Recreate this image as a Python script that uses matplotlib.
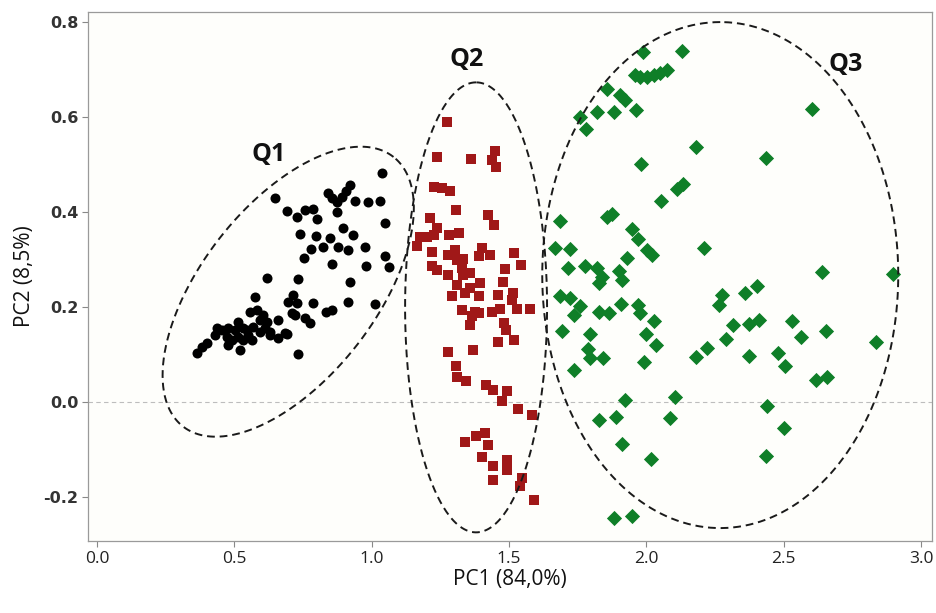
import numpy as np
import matplotlib
matplotlib.use("Agg")
import matplotlib.pyplot as plt

# PCA scores
q1_pc1 = [1.038, 0.921, 0.907, 0.892, 0.874, 0.856, 0.841, 0.874, 0.940, 0.987,
          1.031, 1.049, 0.648, 0.692, 0.728, 0.757, 0.787, 0.801, 0.739, 0.798,
          0.848, 0.823, 0.878, 0.914, 0.896, 0.932, 0.976, 0.779, 0.754, 0.856,
          0.980, 1.049, 1.063, 0.619, 0.732, 0.921, 0.575, 0.714, 0.728, 0.787,
          0.914, 1.012, 0.834, 0.856, 0.696, 0.710, 0.557, 0.583, 0.605, 0.594,
          0.619, 0.612, 0.630, 0.659, 0.685, 0.659, 0.721, 0.757, 0.776, 0.513,
          0.532, 0.503, 0.477, 0.455, 0.437, 0.473, 0.492, 0.513, 0.532, 0.550,
          0.564, 0.521, 0.477, 0.401, 0.382, 0.364, 0.732, 0.430, 0.546, 0.568,
          0.594, 0.630, 0.692]
q1_pc2 = [0.482, 0.457, 0.444, 0.432, 0.421, 0.429, 0.440, 0.400, 0.423, 0.421,
          0.423, 0.377, 0.429, 0.402, 0.389, 0.404, 0.406, 0.385, 0.354, 0.349,
          0.345, 0.326, 0.326, 0.320, 0.366, 0.352, 0.326, 0.322, 0.303, 0.291,
          0.286, 0.307, 0.284, 0.261, 0.259, 0.253, 0.221, 0.225, 0.208, 0.208,
          0.211, 0.206, 0.189, 0.194, 0.211, 0.187, 0.189, 0.194, 0.183, 0.173,
          0.168, 0.156, 0.147, 0.173, 0.145, 0.135, 0.183, 0.177, 0.166, 0.168,
          0.156, 0.152, 0.156, 0.152, 0.156, 0.137, 0.131, 0.137, 0.131, 0.141,
          0.131, 0.109, 0.120, 0.124, 0.116, 0.103, 0.101, 0.141, 0.152, 0.158,
          0.147, 0.141, 0.143]

q2_pc1 = [1.273, 1.237, 1.361, 1.449, 1.437, 1.452, 1.225, 1.255, 1.286, 1.306,
          1.425, 1.446, 1.213, 1.237, 1.225, 1.201, 1.176, 1.164, 1.283, 1.319,
          1.219, 1.279, 1.304, 1.310, 1.334, 1.401, 1.389, 1.431, 1.519, 1.543,
          1.219, 1.237, 1.279, 1.328, 1.334, 1.358, 1.310, 1.395, 1.358, 1.340,
          1.292, 1.389, 1.486, 1.477, 1.461, 1.516, 1.510, 1.528, 1.577, 1.328,
          1.377, 1.365, 1.358, 1.437, 1.468, 1.480, 1.489, 1.458, 1.519, 1.277,
          1.370, 1.306, 1.312, 1.344, 1.417, 1.443, 1.494, 1.476, 1.534, 1.583,
          1.340, 1.380, 1.413, 1.425, 1.401, 1.443, 1.492, 1.494, 1.441, 1.547,
          1.540, 1.591, 1.391]
q2_pc2 = [0.590, 0.515, 0.512, 0.529, 0.509, 0.495, 0.452, 0.450, 0.443, 0.404,
          0.394, 0.373, 0.387, 0.366, 0.352, 0.348, 0.348, 0.329, 0.352, 0.355,
          0.316, 0.309, 0.320, 0.299, 0.300, 0.324, 0.307, 0.309, 0.313, 0.288,
          0.287, 0.278, 0.267, 0.281, 0.267, 0.271, 0.246, 0.250, 0.239, 0.230,
          0.223, 0.222, 0.280, 0.253, 0.225, 0.229, 0.215, 0.195, 0.195, 0.194,
          0.190, 0.180, 0.162, 0.190, 0.195, 0.167, 0.152, 0.126, 0.131, 0.105,
          0.110, 0.076, 0.052, 0.043, 0.036, 0.025, 0.022, 0.001, -0.015, -0.027,
          -0.084, -0.072, -0.066, -0.091, -0.116, -0.136, -0.122, -0.143, -0.164, -0.161,
          -0.178, -0.206, 0.187]

q3_pc1 = [1.987, 2.129, 1.959, 1.977, 2.002, 2.026, 2.050, 2.075, 1.856, 1.905,
          1.923, 1.820, 1.883, 1.962, 1.759, 1.781, 2.603, 2.181, 2.435, 1.980,
          2.135, 2.111, 2.053, 1.686, 1.856, 1.874, 1.947, 1.971, 2.002, 2.020,
          1.668, 1.722, 2.210, 1.929, 1.716, 1.775, 1.822, 1.838, 1.829, 1.901,
          1.913, 2.639, 2.898, 1.686, 1.722, 1.759, 1.735, 1.826, 1.865, 1.908,
          1.971, 1.977, 2.029, 2.277, 2.265, 2.360, 2.402, 1.694, 1.793, 1.999,
          2.036, 1.789, 1.795, 1.842, 1.992, 1.738, 2.317, 2.372, 2.411, 2.531,
          2.654, 2.563, 2.291, 2.220, 2.179, 2.375, 2.481, 2.503, 2.837, 2.618,
          2.657, 1.923, 2.105, 1.826, 1.889, 2.087, 2.439, 2.502, 1.911, 2.016,
          2.434, 1.883, 1.947]
q3_pc2 = [0.736, 0.739, 0.688, 0.684, 0.684, 0.688, 0.693, 0.699, 0.659, 0.646,
          0.636, 0.610, 0.610, 0.615, 0.599, 0.575, 0.616, 0.537, 0.513, 0.501,
          0.459, 0.448, 0.422, 0.381, 0.389, 0.396, 0.364, 0.343, 0.320, 0.309,
          0.324, 0.321, 0.324, 0.303, 0.281, 0.286, 0.281, 0.264, 0.250, 0.276,
          0.257, 0.274, 0.269, 0.223, 0.218, 0.202, 0.183, 0.190, 0.187, 0.206,
          0.204, 0.188, 0.171, 0.225, 0.204, 0.230, 0.245, 0.149, 0.143, 0.143,
          0.120, 0.111, 0.092, 0.093, 0.083, 0.067, 0.162, 0.164, 0.173, 0.171,
          0.150, 0.136, 0.132, 0.114, 0.094, 0.097, 0.103, 0.076, 0.126, 0.046,
          0.052, 0.003, 0.011, -0.038, -0.031, -0.033, -0.008, -0.055, -0.088, -0.121,
          -0.113, -0.245, -0.240]

group_labels = ["Q1", "Q2", "Q3"]
x_ticks = [0.0, 0.5, 1.0, 1.5, 2.0, 2.5, 3.0]
y_ticks = [-0.2, 0.0, 0.2, 0.4, 0.6, 0.8]

W, H = 937, 613
fig = plt.figure(figsize=(W / 100, H / 100), dpi=100)
ax_left, ax_bottom, ax_w, ax_h = 88 / W, 72 / H, 844 / W, 529 / H
ax = fig.add_axes([ax_left, ax_bottom, ax_w, ax_h])
ax.set_facecolor("#fefefb")

xlim = (-0.033, 3.04)
ylim = (-0.293, 0.821)
ax.set_xlim(*xlim)
ax.set_ylim(*ylim)

# pixels per data unit, used to draw the ellipses round in screen space
sx = ax_w * W / (xlim[1] - xlim[0])
sy = ax_h * H / (ylim[1] - ylim[0])

ax.axhline(0, color="#bdbdbd", lw=0.8, ls=(0, (4, 3)), zorder=1)

ax.scatter(q1_pc1, q1_pc2, s=52, marker="o", color="black", lw=0, zorder=3)
ax.scatter(q2_pc1, q2_pc2, s=58, marker="s", color="#a01818", lw=0, zorder=3)
ax.scatter(q3_pc1, q3_pc2, s=60, marker="D", color="#0f7f28", lw=0, zorder=3)

# ellipses: centre (data), semi-axes (px), angle (deg)
ellipses = [((0.696, 0.232), 171, 87, 52),
            ((1.380, 0.199), 225, 71, 90),
            ((2.269, 0.267), 253, 178, 90)]
t = np.linspace(0, 2 * np.pi, 400)
for (cx, cy), a, b, ang in ellipses:
    th = np.deg2rad(ang)
    u = a * np.cos(t)
    v = b * np.sin(t)
    ex = cx + (u * np.cos(th) - v * np.sin(th)) / sx
    ey = cy + (u * np.sin(th) + v * np.cos(th)) / sy
    ax.plot(ex, ey, color="#1a1a1a", lw=1.4, ls=(0, (4, 2.5)), zorder=4)

label_pos = [(0.626, 0.520), (1.347, 0.720), (2.724, 0.711)]
for lab, (lx, ly) in zip(group_labels, label_pos):
    ax.text(lx, ly, lab, ha="center", va="center", fontsize=18,
            fontweight="bold", family="Open Sans", color="#111111", zorder=5)

ax.set_xticks(x_ticks)
ax.set_xticklabels([f"{v:.1f}" for v in x_ticks], family="Open Sans",
                   fontsize=12.5, color="#222222")
ax.set_yticks(y_ticks)
ax.set_yticklabels([f"{v:.1f}" for v in y_ticks], family="DejaVu Sans",
                   fontsize=11.5, fontweight="bold", color="#333333")
ax.tick_params(axis="both", direction="out", length=4, width=0.8,
               color="#888888", pad=3)
for sp in ax.spines.values():
    sp.set_color("#9a9a9a")
    sp.set_linewidth(0.9)

ax.set_xlabel("PC1 (84,0%)", family="Open Sans", fontsize=15, color="#111111",
              labelpad=2)
ax.set_ylabel("PC2 (8,5%)", family="Open Sans", fontsize=15, color="#111111",
              labelpad=6)

fig.savefig("out.png", dpi=100, facecolor="white")
